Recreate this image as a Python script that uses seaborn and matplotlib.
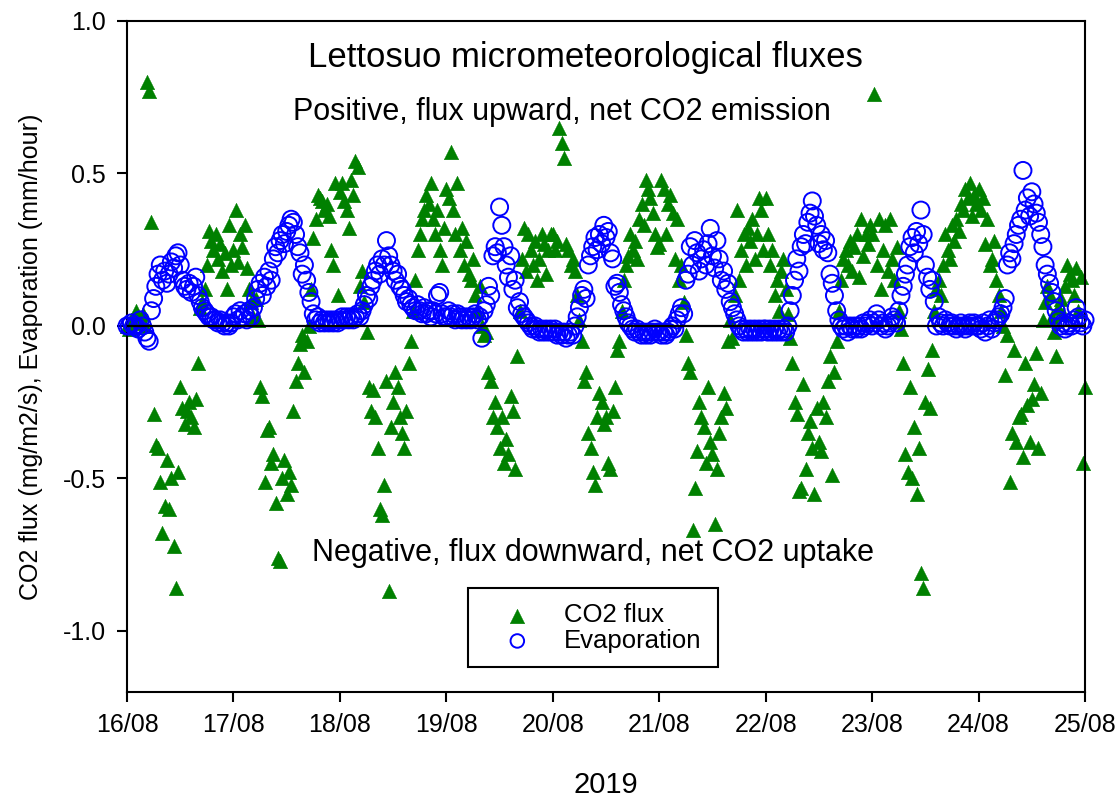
import numpy as np
import pandas as pd
import seaborn as sns
import matplotlib.pyplot as plt
import matplotlib.dates as mdates
from matplotlib.patches import Rectangle

# half-hourly values, one list per day (48 values, 00:00 ... 23:30)
co2_0816 = [0.0, -0.01, 0.02, 0.03, 0.05, 0.01, 0.02, 0.04, 0.0, 0.8, 0.77, 0.34,
            -0.29, -0.39, -0.4, -0.51, -0.68, -0.59, -0.44, -0.6, -0.5, -0.72, -0.86, -0.48,
            -0.2, -0.27, -0.32, -0.28, -0.25, -0.3, -0.33, -0.24, -0.12, 0.06, 0.08, 0.12,
            0.2, 0.31, 0.28, 0.25, 0.3, 0.22, 0.27, 0.18, 0.24, 0.12, 0.33, 0.2]
co2_0817 = [0.25, 0.38, 0.21, 0.3, 0.26, 0.33, 0.19, 0.12, 0.08, 0.03, 0.09, 0.02,
            -0.2, -0.23, -0.51, -0.34, -0.33, -0.45, -0.42, -0.58, -0.76, -0.77, -0.5, -0.44,
            -0.55, -0.48, -0.52, -0.28, -0.18, -0.12, -0.06, -0.03, -0.15, -0.05, 0.0, 0.12,
            0.29, 0.35, 0.43, 0.42, 0.41, 0.38, 0.4, 0.36, 0.25, 0.2, 0.47, 0.1]
co2_0818 = [0.44, 0.47, 0.41, 0.38, 0.32, 0.48, 0.43, 0.54, 0.52, 0.13, 0.18, 0.08,
            -0.02, -0.2, -0.28, -0.21, -0.3, -0.4, -0.6, -0.62, -0.52, -0.18, -0.87, -0.33,
            -0.25, -0.15, -0.2, -0.3, -0.35, -0.4, -0.28, -0.12, -0.05, 0.05, 0.15, 0.25,
            0.3, 0.35, 0.38, 0.43, 0.4, 0.47, 0.35, 0.3, 0.38, 0.25, 0.2, 0.32]
co2_0819 = [0.45, 0.42, 0.57, 0.38, 0.3, 0.47, 0.25, 0.32, 0.2, 0.28, 0.17, 0.15,
            0.22, 0.1, 0.05, 0.13, 0.0, -0.03, -0.02, -0.15, -0.18, -0.3, -0.25, -0.33,
            -0.4, -0.3, -0.45, -0.37, -0.42, -0.23, -0.28, -0.47, -0.1, 0.05, 0.22, 0.32,
            0.18, 0.3, 0.25, 0.2, 0.28, 0.15, 0.22, 0.3, 0.27, 0.17, 0.25, 0.3]
co2_0820 = [0.3, 0.25, 0.28, 0.65, 0.6, 0.55, 0.27, 0.25, 0.2, 0.22, 0.18, 0.1,
            0.02, -0.05, -0.18, -0.15, -0.35, -0.4, -0.48, -0.52, -0.3, -0.22, -0.25, -0.32,
            -0.3, -0.45, -0.47, -0.28, -0.2, -0.08, -0.05, 0.05, 0.15, 0.2, 0.23, 0.3,
            0.25, 0.28, 0.22, 0.35, 0.4, 0.33, 0.48, 0.45, 0.42, 0.37, 0.3, 0.26]
co2_0821 = [0.27, 0.48, 0.45, 0.3, 0.4, 0.43, 0.37, 0.22, 0.35, 0.15, 0.2, 0.08,
            -0.03, -0.12, -0.15, -0.67, -0.53, -0.41, -0.25, -0.3, -0.33, -0.45, -0.2, -0.38,
            -0.42, -0.65, -0.47, -0.35, -0.3, -0.22, -0.27, -0.05, 0.02, -0.04, 0.1, 0.38,
            0.15, 0.25, 0.3, 0.2, 0.32, 0.28, 0.35, 0.22, 0.3, 0.42, 0.38, 0.25]
co2_0822 = [0.42, 0.3, 0.2, 0.25, 0.1, 0.15, 0.05, 0.18, 0.22, 0.12, 0.04, -0.04,
            -0.12, -0.25, -0.29, -0.54, -0.53, -0.19, -0.47, -0.35, -0.31, -0.4, -0.55, -0.27,
            -0.38, -0.41, -0.25, -0.3, -0.18, -0.1, -0.49, -0.15, -0.05, 0.05, 0.15, 0.22,
            0.25, 0.2, 0.28, 0.18, 0.26, 0.3, 0.16, 0.35, 0.23, 0.3, 0.27, 0.33]
co2_0823 = [0.3, 0.76, 0.2, 0.35, 0.12, 0.25, 0.33, 0.18, 0.35, 0.22, 0.15, 0.26,
            0.05, -0.01, -0.12, -0.42, -0.48, -0.2, -0.5, -0.33, -0.55, -0.4, -0.81, -0.86,
            -0.25, -0.14, -0.27, -0.08, 0.05, 0.12, 0.15, 0.1, 0.2, 0.3, 0.25, 0.22,
            0.33, 0.28, 0.35, 0.31, 0.4, 0.38, 0.45, 0.42, 0.47, 0.36, 0.43, 0.4]
co2_0824 = [0.45, 0.38, 0.42, 0.27, 0.35, 0.2, 0.22, 0.28, 0.15, 0.1, 0.05, 0.0,
            -0.16, -0.03, -0.51, -0.35, -0.08, -0.38, -0.3, -0.29, -0.43, -0.12, -0.26, -0.38,
            -0.24, -0.19, -0.09, -0.4, -0.22, 0.02, 0.08, 0.13, 0.1, 0.03, -0.02, -0.1,
            0.06, 0.09, 0.04, 0.13, 0.2, 0.17, 0.15, 0.1, 0.19, 0.05, 0.16, -0.45]
co2_0825 = [-0.2]

evap_0816 = [0.0, 0.0, 0.01, 0.0, 0.0, -0.01, 0.02, 0.0, -0.02, -0.04, -0.05, 0.05,
             0.09, 0.13, 0.17, 0.2, 0.15, 0.18, 0.14, 0.17, 0.21, 0.19, 0.23, 0.24,
             0.2, 0.15, 0.13, 0.12, 0.14, 0.11, 0.13, 0.16, 0.1, 0.08, 0.06, 0.05,
             0.04, 0.03, 0.03, 0.02, 0.02, 0.01, 0.02, 0.01, 0.0, 0.01, 0.0, 0.01]
evap_0817 = [0.03, 0.04, 0.02, 0.05, 0.03, 0.04, 0.02, 0.05, 0.03, 0.06, 0.09, 0.12,
             0.14, 0.1, 0.16, 0.13, 0.18, 0.15, 0.22, 0.26, 0.24, 0.28, 0.3, 0.27,
             0.31, 0.33, 0.35, 0.34, 0.3, 0.26, 0.24, 0.17, 0.2, 0.15, 0.11, 0.08,
             0.04, 0.02, 0.03, 0.01, 0.02, 0.01, 0.02, 0.01, 0.02, 0.01, 0.02, 0.01]
evap_0818 = [0.02, 0.03, 0.02, 0.03, 0.02, 0.03, 0.02, 0.03, 0.04, 0.03, 0.05, 0.07,
             0.1, 0.09, 0.13, 0.15, 0.18, 0.2, 0.17, 0.22, 0.2, 0.28, 0.23, 0.2,
             0.18, 0.15, 0.17, 0.13, 0.12, 0.1, 0.08, 0.09, 0.07, 0.06, 0.05, 0.07,
             0.05, 0.04, 0.06, 0.04, 0.05, 0.03, 0.05, 0.04, 0.1, 0.11, 0.04, 0.03]
evap_0819 = [0.03, 0.05, 0.03, 0.04, 0.02, 0.04, 0.03, 0.02, 0.03, 0.02, 0.03, 0.02,
             0.03, 0.04, 0.02, 0.03, -0.04, 0.05, 0.07, 0.13, 0.1, 0.23, 0.26, 0.24,
             0.39, 0.33, 0.26, 0.2, 0.16, 0.23, 0.12, 0.15, 0.06, 0.08, 0.04, 0.03,
             0.02, 0.01, 0.0, -0.01, 0.0, -0.01, -0.02, -0.01, -0.02, -0.01, -0.02, -0.01]
evap_0820 = [-0.02, -0.01, -0.03, -0.02, -0.03, -0.02, -0.04, -0.03, -0.02, -0.03, 0.0, 0.03,
             0.06, 0.1, 0.12, 0.09, 0.2, 0.23, 0.26, 0.29, 0.25, 0.3, 0.27, 0.33,
             0.29, 0.31, 0.24, 0.22, 0.13, 0.14, 0.11, 0.07, 0.05, 0.03, 0.01, 0.0,
             -0.01, -0.02, -0.01, -0.02, -0.03, -0.02, -0.03, -0.02, -0.03, -0.02, -0.01, -0.02]
evap_0821 = [-0.02, -0.03, -0.02, -0.03, -0.02, -0.01, 0.0, -0.01, 0.02, 0.04, 0.06, 0.04,
             0.15, 0.17, 0.26, 0.2, 0.28, 0.24, 0.18, 0.22, 0.25, 0.2, 0.27, 0.32,
             0.23, 0.19, 0.28, 0.22, 0.15, 0.18, 0.12, 0.14, 0.08, 0.06, 0.04, 0.02,
             0.0, -0.01, -0.02, -0.01, -0.02, -0.01, -0.02, -0.01, -0.02, -0.01, -0.02, -0.01]
evap_0822 = [-0.01, -0.02, -0.01, -0.02, -0.01, -0.02, -0.01, -0.02, -0.01, -0.02, 0.0, 0.05,
             0.1, 0.15, 0.22, 0.18, 0.26, 0.3, 0.27, 0.34, 0.37, 0.41, 0.36, 0.33,
             0.27, 0.3, 0.25, 0.28, 0.24, 0.17, 0.14, 0.1, 0.05, 0.02, 0.0, -0.01,
             0.0, -0.02, 0.0, -0.01, 0.0, -0.01, 0.0, -0.01, 0.01, 0.0, 0.01, 0.02]
evap_0823 = [0.0, 0.01, 0.04, 0.02, 0.0, 0.01, -0.01, 0.0, 0.01, 0.03, 0.02, 0.01,
             0.05, 0.1, 0.13, 0.17, 0.2, 0.26, 0.29, 0.24, 0.31, 0.27, 0.38, 0.3,
             0.2, 0.16, 0.12, 0.15, 0.08, 0.0, 0.03, 0.01, 0.0, 0.02, 0.01, 0.0,
             0.01, 0.0, -0.01, 0.0, 0.01, 0.0, -0.01, 0.0, 0.01, 0.0, 0.01, 0.0]
evap_0824 = [0.0, -0.01, 0.01, -0.02, 0.0, 0.02, -0.01, 0.01, 0.02, 0.03, 0.04, 0.06,
             0.09, 0.2, 0.24, 0.22, 0.27, 0.3, 0.33, 0.35, 0.51, 0.38, 0.42, 0.36,
             0.44, 0.4, 0.37, 0.34, 0.3, 0.26, 0.2, 0.17, 0.14, 0.11, 0.08, 0.05,
             0.02, 0.0, 0.01, -0.01, 0.0, 0.01, 0.0, 0.02, 0.06, 0.03, 0.01, 0.0]
evap_0825 = [0.02]

ytick_vals = [-1.0, -0.5, 0.0, 0.5, 1.0]

sns.set_style("ticks")
plt.rcParams['font.family'] = ['Liberation Sans', 'DejaVu Sans']
plt.rcParams['axes.unicode_minus'] = False
plt.rcParams['text.color'] = 'black'
plt.rcParams['axes.labelcolor'] = 'black'

co2 = (co2_0816 + co2_0817 + co2_0818 + co2_0819 + co2_0820 + co2_0821
       + co2_0822 + co2_0823 + co2_0824 + co2_0825)
evap = (evap_0816 + evap_0817 + evap_0818 + evap_0819 + evap_0820 + evap_0821
        + evap_0822 + evap_0823 + evap_0824 + evap_0825)
times = pd.date_range("2019-08-16 00:00", periods=len(co2), freq="30min")
df = pd.DataFrame({"time": times, "co2": co2, "evap": evap})

fig = plt.figure(figsize=(11.17, 8.01), dpi=100)
ax = fig.add_axes([0.1137, 0.1361, 0.8577, 0.8377])

sns.scatterplot(data=df, x="time", y="co2", marker="^", s=110, color="#008000",
                edgecolor="#008000", linewidth=0.3, label="CO2 flux", ax=ax,
                clip_on=False, zorder=2)
sns.scatterplot(data=df, x="time", y="evap", marker="o", s=150, color="#0000ff",
                edgecolor="#0000ff", linewidth=1.4, label="Evaporation", ax=ax,
                clip_on=False, zorder=3)
ax.collections[-1].set_facecolor("none")

ax.axhline(0, color="black", lw=1.6, zorder=4)

ax.set_xlim(pd.Timestamp("2019-08-16"), pd.Timestamp("2019-08-25"))
ax.xaxis.set_major_locator(mdates.DayLocator())
ax.xaxis.set_major_formatter(mdates.DateFormatter("%d/%m"))
ax.set_ylim(-1.2, 1.0)
ax.set_yticks(ytick_vals)
ax.set_yticklabels([f"{v:.1f}" for v in ytick_vals])

for sp in ax.spines.values():
    sp.set_visible(True)
    sp.set_linewidth(1.5)
    sp.set_color("black")
ax.tick_params(direction="out", length=7, width=1.5, labelsize=18, pad=8, colors="black")

ax.set_xlabel("2019", fontsize=21)
ax.xaxis.set_label_coords(0.5, -0.118)
ax.set_ylabel("CO2 flux (mg/m2/s), Evaporation (mm/hour)", fontsize=18)
ax.yaxis.set_label_coords(-0.088, 0.5)

ax.text(0.478, 0.945, "Lettosuo micrometeorological fluxes", transform=ax.transAxes,
        ha="center", va="center", fontsize=25)
ax.text(0.454, 0.864, "Positive, flux upward, net CO2 emission", transform=ax.transAxes,
        ha="center", va="center", fontsize=22)
ax.text(0.486, 0.207, "Negative, flux downward, net CO2 uptake", transform=ax.transAxes,
        ha="center", va="center", fontsize=22)

# legend box drawn separately so it can be wider than its contents
ax.add_patch(Rectangle((0.356, 0.037), 0.261, 0.118, transform=ax.transAxes,
                       facecolor="white", edgecolor="black", lw=1.5, zorder=5))
leg = ax.legend(loc="upper left", bbox_to_anchor=(0.394, 0.132), fontsize=18.5,
                frameon=False, borderpad=0, labelspacing=0.05,
                handlelength=1.0, handletextpad=1.3, borderaxespad=0)
leg.set_zorder(6)
leg.legend_handles[0].set_sizes([110])
leg.legend_handles[1].set_sizes([95])
leg.legend_handles[1].set_facecolor("none")

fig.savefig("out.png", dpi=100)
